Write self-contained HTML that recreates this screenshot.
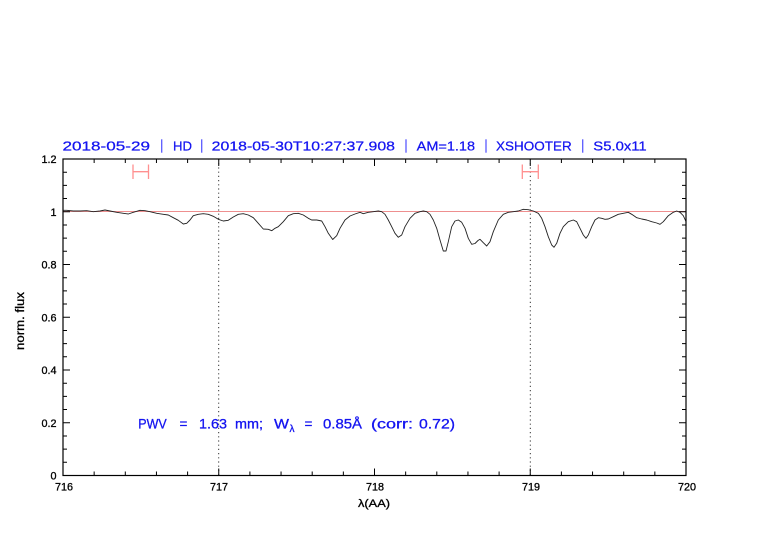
<!DOCTYPE html>
<html><head><meta charset="utf-8"><style>
html,body{margin:0;padding:0;background:#fff;}
svg{display:block;}
text{font-family:"Liberation Sans",sans-serif;}
</style></head><body>
<svg width="782" height="542" viewBox="0 0 782 542" xmlns="http://www.w3.org/2000/svg">
<rect width="782" height="542" fill="#fff"/>
<!-- title -->
<g font-size="12.8" fill="#1414f0" stroke="#1414f0" stroke-width="0.25">
<text x="62.5" y="150.3" textLength="87.5" lengthAdjust="spacingAndGlyphs">2018-05-29</text>
<text x="173" y="150.3" textLength="19" lengthAdjust="spacingAndGlyphs">HD</text>
<text x="211.7" y="150.3" textLength="183.3" lengthAdjust="spacingAndGlyphs">2018-05-30T10:27:37.908</text>
<text x="416.7" y="150.3" textLength="58.3" lengthAdjust="spacingAndGlyphs">AM=1.18</text>
<text x="496" y="150.3" textLength="75.7" lengthAdjust="spacingAndGlyphs">XSHOOTER</text>
<text x="593.3" y="150.3" textLength="53.4" lengthAdjust="spacingAndGlyphs">S5.0x11</text>
</g>
<g stroke="#5a5aff" stroke-width="1.3">
<line x1="161.7" y1="139.3" x2="161.7" y2="152.7"/>
<line x1="201.7" y1="139.3" x2="201.7" y2="152.7"/>
<line x1="406" y1="139.3" x2="406" y2="152.7"/>
<line x1="486" y1="139.3" x2="486" y2="152.7"/>
<line x1="582.7" y1="139.3" x2="582.7" y2="152.7"/>
</g>

<!-- reference line at 1 -->
<line x1="63" y1="211.5" x2="686" y2="211.5" stroke="#e86a6a" stroke-width="0.8"/>

<!-- dotted verticals -->
<line x1="218.75" y1="159" x2="218.75" y2="475.5" stroke="#000" stroke-width="0.8" stroke-dasharray="1.2,3"/>
<line x1="530.25" y1="159" x2="530.25" y2="475.5" stroke="#000" stroke-width="0.8" stroke-dasharray="1.2,3"/>

<!-- error bars -->
<g stroke="#ff9090" stroke-width="1.3" fill="none">
<path d="M133 171.7H148.5M133 164.5V179M148.5 164.5V179"/>
<path d="M522.3 171.7H538.3M522.3 164.5V179M538.3 164.5V179"/>
</g>

<!-- spectrum -->
<polyline fill="none" stroke="#222" stroke-width="0.9" stroke-linejoin="round" points="
63,210.3 66.7,210.3 73.3,211 80,211 86.7,210.7 93.3,211.7 100,211 105,210 110,211 116.7,212.3 123.3,213.3 128.3,214 133.3,212.3 140,210.3 145,210.7 150,211.7 156.7,213.3 163.3,214.3 168.3,215 173.3,217.7 178.3,220.3 183.3,224 186.7,223.3 190,220 193.3,215.7 198.3,214.3 203.3,213.7 208.3,214.3 213.3,216.3 218.3,219.3 223.3,221 228.3,220.3 233.3,217 238.3,214.3 243.3,213.7 248.3,215 253.3,217.7 258.3,223.3 263.3,229 268.3,229.3 271.7,230.7 275,228.3 278.3,226.7 283.3,221.7 288.3,215.7 293.3,213.7 298.3,213.3 303.3,215 308.3,218.3 311.7,220 316.7,220 321.7,221 325,226.7 328.3,233.3 332.7,239.5 336.7,235.7 340,228.3 345,220 350,216 355,214 360,212.3 363.3,213.7 368.3,212.3 373.3,211.7 378.3,211 381.7,211.7 385,214.3 388.3,220 391.7,226.7 395,233.3 398.3,237.3 401.7,235 405,226.7 410,218.3 415,213.3 420,211.7 423.3,211 426.7,211.7 430,214.3 433.3,220 436.7,228.3 440,240 443.3,251 446,251 448.3,241.7 451.7,226.7 455,221 458.3,220 461.7,222.3 465,228.3 468.3,238.3 471.7,244.3 475,243.5 478,240.5 480,239.3 483.3,242.7 486.7,246 490,241.7 493.3,231.7 498.3,220 503.3,214.3 508.3,212.3 513.3,211.7 518.3,211 523.3,209.3 528.3,209.7 533.3,211 538.3,213.3 541.7,218.3 545,226.7 548.3,236.7 551.7,245 554,247.3 556.7,243.3 560,233.3 563.3,226.7 568.3,221.7 573.3,220 576.7,221.7 580,228.3 583.3,235 586,238.3 588.3,235 591.7,226.7 595,220 598.3,217.7 601.7,218.3 605,219.3 608.3,219 613.3,216.7 618.3,214.3 623.3,213.3 628.3,212.3 631.7,214.3 636.7,217.7 641.7,219 646.7,220 651.7,221.7 656.7,223 660,224.3 663.3,221.7 668.3,215.7 673.3,212.3 676.7,211 680,212.3 683.3,215.7 686,221.5"/>

<!-- frame -->
<rect x="63" y="159" width="623" height="316.5" fill="none" stroke="#000" stroke-width="1.2"/>

<!-- ticks -->
<g stroke="#000" stroke-width="1" fill="none">
<path d="M218.75 475.5v-7M374.5 475.5v-7M530.25 475.5v-7
M94.15 475.5v-4M125.3 475.5v-4M156.45 475.5v-4M187.6 475.5v-4M249.9 475.5v-4M281.05 475.5v-4M312.2 475.5v-4M343.35 475.5v-4M405.65 475.5v-4M436.8 475.5v-4M467.95 475.5v-4M499.1 475.5v-4M561.4 475.5v-4M592.55 475.5v-4M623.7 475.5v-4M654.85 475.5v-4"/>
<path d="M218.75 159v7M374.5 159v7M530.25 159v7
M94.15 159v4M125.3 159v4M156.45 159v4M187.6 159v4M249.9 159v4M281.05 159v4M312.2 159v4M343.35 159v4M405.65 159v4M436.8 159v4M467.95 159v4M499.1 159v4M561.4 159v4M592.55 159v4M623.7 159v4M654.85 159v4"/>
<path d="M63 422.75h7M63 370h7M63 317.25h7M63 264.5h7M63 211.75h7
M63 462.31h4M63 449.13h4M63 435.94h4M63 409.56h4M63 396.38h4M63 383.19h4M63 356.81h4M63 343.63h4M63 330.44h4M63 304.06h4M63 290.88h4M63 277.69h4M63 251.31h4M63 238.13h4M63 224.94h4M63 198.56h4M63 185.38h4M63 172.19h4"/>
<path d="M686 422.75h-7M686 370h-7M686 317.25h-7M686 264.5h-7M686 211.75h-7
M686 462.31h-4M686 449.13h-4M686 435.94h-4M686 409.56h-4M686 396.38h-4M686 383.19h-4M686 356.81h-4M686 343.63h-4M686 330.44h-4M686 304.06h-4M686 290.88h-4M686 277.69h-4M686 251.31h-4M686 238.13h-4M686 224.94h-4M686 198.56h-4M686 185.38h-4M686 172.19h-4"/>
</g>

<!-- y tick labels -->
<g font-size="10.8" fill="#000" stroke="#000" stroke-width="0.3" text-anchor="end">
<text x="56.5" y="479.5">0</text>
<text x="56.5" y="426.8">0.2</text>
<text x="56.5" y="374">0.4</text>
<text x="56.5" y="321.3">0.6</text>
<text x="56.5" y="268.5">0.8</text>
<text x="56.5" y="215.8">1</text>
<text x="56.5" y="163">1.2</text>
</g>
<!-- x tick labels -->
<g font-size="10.8" fill="#000" stroke="#000" stroke-width="0.3" text-anchor="middle">
<text x="64" y="490.5">716</text>
<text x="219" y="490.5">717</text>
<text x="375" y="490.5">718</text>
<text x="531" y="490.5">719</text>
<text x="687" y="490.5">720</text>
</g>
<!-- axis labels -->
<text x="358" y="507" font-size="11" fill="#000" stroke="#000" stroke-width="0.3" textLength="32" lengthAdjust="spacingAndGlyphs">λ(AA)</text>
<text transform="translate(24,321) rotate(-90)" x="-29" y="0" font-size="11.5" fill="#000" stroke="#000" stroke-width="0.3" textLength="58" lengthAdjust="spacingAndGlyphs">norm. flux</text>

<!-- PWV annotation -->
<g font-size="13.5" fill="#1414f0" stroke="#1414f0" stroke-width="0.3">
<text x="138.3" y="428.3" textLength="28.4" lengthAdjust="spacingAndGlyphs">PWV</text>
<text x="179.5" y="428.3">=</text>
<text x="199" y="428.3" textLength="28" lengthAdjust="spacingAndGlyphs">1.63</text>
<text x="235" y="428.3" textLength="28" lengthAdjust="spacingAndGlyphs">mm;</text>
<text x="274" y="428.3" textLength="15" lengthAdjust="spacingAndGlyphs">W</text>
<text x="289.5" y="432" font-size="10">λ</text>
<text x="304.5" y="428.3">=</text>
<text x="323" y="428.3" textLength="39" lengthAdjust="spacingAndGlyphs">0.85Å</text>
<text x="371" y="428.3" textLength="42" lengthAdjust="spacingAndGlyphs">(corr:</text>
<text x="419" y="428.3" textLength="36" lengthAdjust="spacingAndGlyphs">0.72)</text>
</g>
</svg>
</body></html>
